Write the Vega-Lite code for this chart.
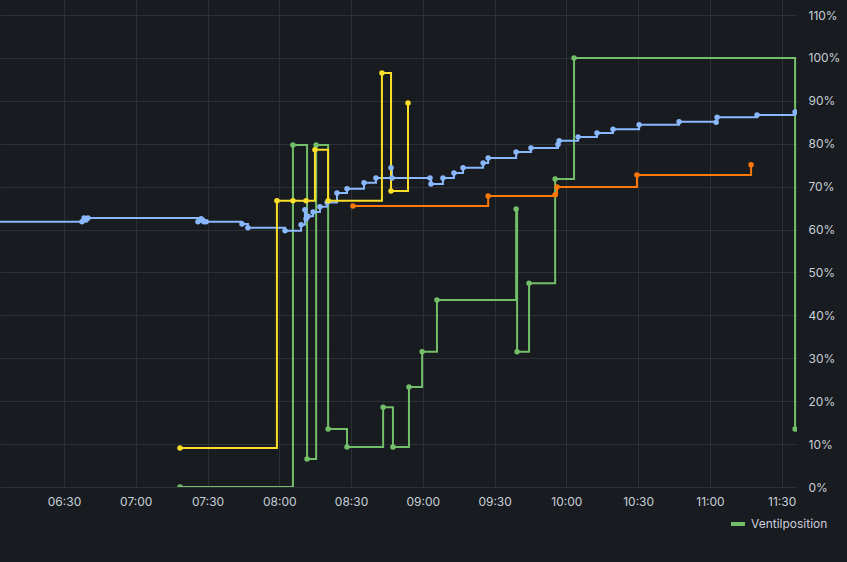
{
  "$schema": "https://vega.github.io/schema/vega-lite/v6.json",
  "autosize": "none",
  "width": 797,
  "height": 487,
  "padding": {"left": 0, "top": 0, "right": 50, "bottom": 75},
  "background": "#181b1f",
  "config": {
    "view": {"stroke": null},
    "axis": {"labelColor": "#c7d0d9", "labelFont": "Inter", "labelFontSize": 12, "gridColor": "#2c2f34", "gridWidth": 1, "domain": false, "ticks": false},
    "legend": {"labelColor": "#ccccdc", "labelFont": "Inter", "labelFontSize": 12}
  },
  "data": {"values": [
    {"series": "Ventilposition", "time": "2024-01-15T07:18:30", "value": 0},
    {"series": "Ventilposition", "time": "2024-01-15T08:05:42", "value": 79.7},
    {"series": "Ventilposition", "time": "2024-01-15T08:11:36", "value": 6.5},
    {"series": "Ventilposition", "time": "2024-01-15T08:15:24", "value": 79.7},
    {"series": "Ventilposition", "time": "2024-01-15T08:20:24", "value": 13.5},
    {"series": "Ventilposition", "time": "2024-01-15T08:28:18", "value": 9.3},
    {"series": "Ventilposition", "time": "2024-01-15T08:43:24", "value": 18.6},
    {"series": "Ventilposition", "time": "2024-01-15T08:47:30", "value": 9.3},
    {"series": "Ventilposition", "time": "2024-01-15T08:54:12", "value": 23.3},
    {"series": "Ventilposition", "time": "2024-01-15T08:59:42", "value": 31.5},
    {"series": "Ventilposition", "time": "2024-01-15T09:05:54", "value": 43.6},
    {"series": "Ventilposition", "time": "2024-01-15T09:39:00", "value": 64.8},
    {"series": "Ventilposition", "time": "2024-01-15T09:39:24", "value": 31.5},
    {"series": "Ventilposition", "time": "2024-01-15T09:44:24", "value": 47.5},
    {"series": "Ventilposition", "time": "2024-01-15T09:55:18", "value": 71.8},
    {"series": "Ventilposition", "time": "2024-01-15T10:03:12", "value": 100},
    {"series": "Ventilposition", "time": "2024-01-15T11:35:36", "value": 13.5},

    {"series": "Außentemperatur", "time": "2024-01-15T08:30:48", "value": 65.5},
    {"series": "Außentemperatur", "time": "2024-01-15T09:27:18", "value": 67.8},
    {"series": "Außentemperatur", "time": "2024-01-15T09:55:18", "value": 68.1},
    {"series": "Außentemperatur", "time": "2024-01-15T09:56:06", "value": 69.9},
    {"series": "Außentemperatur", "time": "2024-01-15T10:29:30", "value": 72.7},
    {"series": "Außentemperatur", "time": "2024-01-15T11:17:12", "value": 75.1},

    {"series": "Raumtemperatur", "time": "2024-01-15T06:00:00", "value": 61.8},
    {"series": "Raumtemperatur", "time": "2024-01-15T06:37:30", "value": 61.8},
    {"series": "Raumtemperatur", "time": "2024-01-15T06:38:24", "value": 62.7},
    {"series": "Raumtemperatur", "time": "2024-01-15T06:39:12", "value": 62.2},
    {"series": "Raumtemperatur", "time": "2024-01-15T06:40:00", "value": 62.7},
    {"series": "Raumtemperatur", "time": "2024-01-15T07:26:00", "value": 61.8},
    {"series": "Raumtemperatur", "time": "2024-01-15T07:27:18", "value": 62.5},
    {"series": "Raumtemperatur", "time": "2024-01-15T07:28:30", "value": 61.8},
    {"series": "Raumtemperatur", "time": "2024-01-15T07:29:24", "value": 61.8},
    {"series": "Raumtemperatur", "time": "2024-01-15T07:44:24", "value": 61.3},
    {"series": "Raumtemperatur", "time": "2024-01-15T07:46:54", "value": 60.4},
    {"series": "Raumtemperatur", "time": "2024-01-15T08:02:24", "value": 59.7},
    {"series": "Raumtemperatur", "time": "2024-01-15T08:09:06", "value": 61.1},
    {"series": "Raumtemperatur", "time": "2024-01-15T08:10:42", "value": 64.6},
    {"series": "Raumtemperatur", "time": "2024-01-15T08:11:12", "value": 62.5},
    {"series": "Raumtemperatur", "time": "2024-01-15T08:12:00", "value": 63.1},
    {"series": "Raumtemperatur", "time": "2024-01-15T08:14:06", "value": 64.1},
    {"series": "Raumtemperatur", "time": "2024-01-15T08:17:00", "value": 65.3},
    {"series": "Raumtemperatur", "time": "2024-01-15T08:20:00", "value": 66.3},
    {"series": "Raumtemperatur", "time": "2024-01-15T08:24:06", "value": 68.5},
    {"series": "Raumtemperatur", "time": "2024-01-15T08:28:18", "value": 69.5},
    {"series": "Raumtemperatur", "time": "2024-01-15T08:35:24", "value": 70.9},
    {"series": "Raumtemperatur", "time": "2024-01-15T08:40:24", "value": 72.0},
    {"series": "Raumtemperatur", "time": "2024-01-15T08:46:42", "value": 74.4},
    {"series": "Raumtemperatur", "time": "2024-01-15T08:47:06", "value": 72.0},
    {"series": "Raumtemperatur", "time": "2024-01-15T09:03:00", "value": 72.0},
    {"series": "Raumtemperatur", "time": "2024-01-15T09:03:24", "value": 70.6},
    {"series": "Raumtemperatur", "time": "2024-01-15T09:08:24", "value": 72.0},
    {"series": "Raumtemperatur", "time": "2024-01-15T09:13:00", "value": 73.2},
    {"series": "Raumtemperatur", "time": "2024-01-15T09:16:48", "value": 74.4},
    {"series": "Raumtemperatur", "time": "2024-01-15T09:25:12", "value": 75.5},
    {"series": "Raumtemperatur", "time": "2024-01-15T09:27:18", "value": 76.7},
    {"series": "Raumtemperatur", "time": "2024-01-15T09:39:00", "value": 78.1},
    {"series": "Raumtemperatur", "time": "2024-01-15T09:45:12", "value": 79.0},
    {"series": "Raumtemperatur", "time": "2024-01-15T09:56:30", "value": 79.8},
    {"series": "Raumtemperatur", "time": "2024-01-15T09:57:00", "value": 80.7},
    {"series": "Raumtemperatur", "time": "2024-01-15T10:04:54", "value": 81.6},
    {"series": "Raumtemperatur", "time": "2024-01-15T10:12:48", "value": 82.5},
    {"series": "Raumtemperatur", "time": "2024-01-15T10:19:30", "value": 83.4},
    {"series": "Raumtemperatur", "time": "2024-01-15T10:30:24", "value": 84.4},
    {"series": "Raumtemperatur", "time": "2024-01-15T10:47:06", "value": 85.1},
    {"series": "Raumtemperatur", "time": "2024-01-15T11:02:36", "value": 85.0},
    {"series": "Raumtemperatur", "time": "2024-01-15T11:03:00", "value": 86.2},
    {"series": "Raumtemperatur", "time": "2024-01-15T11:19:42", "value": 86.7},
    {"series": "Raumtemperatur", "time": "2024-01-15T11:35:36", "value": 87.4},

    {"series": "Vorlauftemperatur", "time": "2024-01-15T07:18:30", "value": 9.1},
    {"series": "Vorlauftemperatur", "time": "2024-01-15T07:59:00", "value": 66.7},
    {"series": "Vorlauftemperatur", "time": "2024-01-15T08:05:42", "value": 66.7},
    {"series": "Vorlauftemperatur", "time": "2024-01-15T08:11:12", "value": 66.7},
    {"series": "Vorlauftemperatur", "time": "2024-01-15T08:14:54", "value": 78.6},
    {"series": "Vorlauftemperatur", "time": "2024-01-15T08:20:24", "value": 66.7},
    {"series": "Vorlauftemperatur", "time": "2024-01-15T08:42:54", "value": 96.5},
    {"series": "Vorlauftemperatur", "time": "2024-01-15T08:46:42", "value": 69.0},
    {"series": "Vorlauftemperatur", "time": "2024-01-15T08:53:48", "value": 89.5}
  ]},
  "encoding": {
    "x": {
      "field": "time", "type": "temporal", "title": null,
      "scale": {"domain": [{"year": 2024, "month": 1, "date": 15, "hours": 6, "minutes": 3, "seconds": 15}, {"year": 2024, "month": 1, "date": 15, "hours": 11, "minutes": 36, "seconds": 24}], "nice": false},
      "axis": {"orient": "bottom", "format": "%H:%M", "labelPadding": 9, "labelFlush": false, "labelOverlap": false, "labelBound": false,
        "values": [
          {"year": 2024, "month": 1, "date": 15, "hours": 6, "minutes": 0},
          {"year": 2024, "month": 1, "date": 15, "hours": 6, "minutes": 30},
          {"year": 2024, "month": 1, "date": 15, "hours": 7, "minutes": 0},
          {"year": 2024, "month": 1, "date": 15, "hours": 7, "minutes": 30},
          {"year": 2024, "month": 1, "date": 15, "hours": 8, "minutes": 0},
          {"year": 2024, "month": 1, "date": 15, "hours": 8, "minutes": 30},
          {"year": 2024, "month": 1, "date": 15, "hours": 9, "minutes": 0},
          {"year": 2024, "month": 1, "date": 15, "hours": 9, "minutes": 30},
          {"year": 2024, "month": 1, "date": 15, "hours": 10, "minutes": 0},
          {"year": 2024, "month": 1, "date": 15, "hours": 10, "minutes": 30},
          {"year": 2024, "month": 1, "date": 15, "hours": 11, "minutes": 0},
          {"year": 2024, "month": 1, "date": 15, "hours": 11, "minutes": 30}
        ]}
    },
    "y": {
      "field": "value", "type": "quantitative", "title": null,
      "scale": {"domain": [0, 113.5], "nice": false, "zero": true},
      "axis": {"orient": "right", "values": [0,10,20,30,40,50,60,70,80,90,100,110], "labelExpr": "datum.value + '%'", "labelPadding": 11, "labelFlush": false}
    },
    "color": {
      "field": "series", "type": "nominal",
      "scale": {"domain": ["Ventilposition", "Außentemperatur", "Raumtemperatur", "Vorlauftemperatur"], "range": ["#73bf69", "#ff780a", "#8ab8ff", "#fade2a"]},
      "legend": {"values": ["Ventilposition"], "title": null, "orient": "none", "legendX": 729, "legendY": 515, "symbolType": "stroke", "symbolStrokeWidth": 4, "symbolSize": 196, "symbolOpacity": 1}
    }
  },
  "layer": [
    {"mark": {"type": "line", "interpolate": "step-after", "strokeWidth": 2, "clip": true}},
    {"mark": {"type": "point", "filled": true, "size": 30, "opacity": 1, "clip": true}}
  ]
}
